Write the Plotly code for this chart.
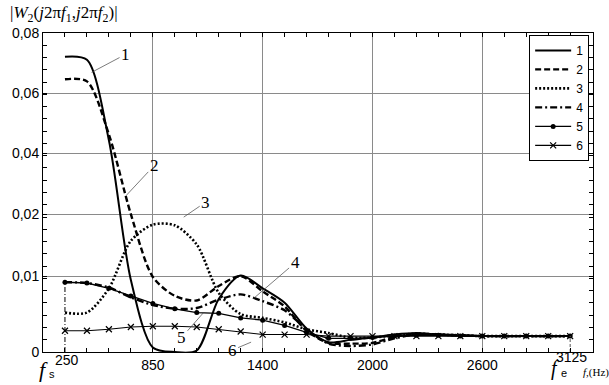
import numpy as np
import plotly.graph_objects as go

# ---------------- data ----------------
freqs = [250, 375, 500, 625, 750, 875, 1000, 1125, 1250, 1375, 1500, 1625,
         1750, 1875, 2000, 2125, 2250, 2375, 2500, 2625, 2750, 2875, 3000, 3125]

s1 = [0.0721, 0.0711, 0.0443, 0.0095, 0.0006, 0.0000, 0.0002, 0.0070, 0.0101, 0.0084, 0.0065, 0.0031,
      0.0013, 0.0016, 0.0019, 0.0023, 0.0025, 0.0023, 0.0022, 0.0021, 0.0021, 0.0021, 0.0021, 0.0021]
s2 = [0.0646, 0.0639, 0.0462, 0.0200, 0.0099, 0.0074, 0.0068, 0.0087, 0.0100, 0.0080, 0.0060, 0.0028,
      0.0012, 0.0011, 0.0012, 0.0020, 0.0024, 0.0023, 0.0022, 0.0021, 0.0021, 0.0021, 0.0021, 0.0021]
s3 = [0.0052, 0.0052, 0.0084, 0.0157, 0.0183, 0.0182, 0.0151, 0.0078, 0.0050, 0.0045, 0.0039, 0.0030,
      0.0025, 0.0019, 0.0019, 0.0022, 0.0024, 0.0023, 0.0022, 0.0021, 0.0021, 0.0021, 0.0021, 0.0021]
s4 = [0.0092, 0.0091, 0.0085, 0.0072, 0.0062, 0.0057, 0.0058, 0.0069, 0.0076, 0.0067, 0.0055, 0.0030,
      0.0011, 0.0008, 0.0010, 0.0018, 0.0023, 0.0023, 0.0022, 0.0021, 0.0021, 0.0021, 0.0021, 0.0021]
s5 = [0.0092, 0.0091, 0.0084, 0.0074, 0.0064, 0.0057, 0.0052, 0.0051, 0.0045, 0.0042, 0.0035, 0.0026,
      0.0018, 0.0018, 0.0019, 0.0021, 0.0022, 0.0022, 0.0021, 0.0021, 0.0021, 0.0021, 0.0021, 0.0021]
s6 = [0.0028, 0.0028, 0.0030, 0.0033, 0.0034, 0.0034, 0.0033, 0.0030, 0.0027, 0.0023, 0.0023, 0.0023,
      0.0021, 0.0021, 0.0021, 0.0021, 0.0021, 0.0021, 0.0021, 0.0021, 0.0021, 0.0021, 0.0021, 0.0021]
series_names = ["1", "2", "3", "4", "5", "6"]

# y axis of the original is piecewise (expanded near zero)
y_tick_values = [0, 0.01, 0.02, 0.04, 0.06, 0.08]
y_tick_labels = ["0", "0,01", "0,02", "0,04", "0,06", "0,08"]
y_axis_units = [0, 77, 140, 202, 263, 324]

x_grid_values = [750, 1375, 2000, 2625]
x_grid_labels = ["850", "1400", "2000", "2600"]


def yscale(v):
    return np.interp(np.asarray(v, dtype=float), y_tick_values, y_axis_units)


# ---------------- figure ----------------
W, H = 609, 385
ML, MR, MT, MB = 38, 16, 33, 28
PW, PH = W - ML - MR, H - MT - MB


def paper(px, py):
    return (px - ML) / PW, (H - MB - py) / PH


fig = go.Figure()
styles = [
    dict(line=dict(color="black", width=2.0, shape="spline", smoothing=0.8), mode="lines"),
    dict(line=dict(color="black", width=2.4, dash="6px,3px", shape="spline", smoothing=0.8), mode="lines"),
    dict(line=dict(color="black", width=2.6, dash="2px,2px", shape="spline", smoothing=0.8), mode="lines"),
    dict(line=dict(color="black", width=2.4, dash="7px,3px,2px,3px", shape="spline", smoothing=0.8), mode="lines"),
    dict(line=dict(color="black", width=1.3), mode="lines+markers",
         marker=dict(symbol="circle", size=5, color="black")),
    dict(line=dict(color="black", width=1.1), mode="lines+markers",
         marker=dict(symbol="x-thin", size=6, line=dict(color="black", width=1.2))),
]
for name, ser, st in zip(series_names, [s1, s2, s3, s4, s5, s6], styles):
    fig.add_trace(go.Scatter(x=freqs, y=yscale(ser), name=name, **st))

# f_s and f_e marker lines
fig.add_trace(go.Scatter(x=[freqs[0], freqs[0]], y=yscale([0, s4[0]]), mode="lines",
                         line=dict(color="black", width=1, dash="5px,2px,1px,2px"), showlegend=False))
fig.add_trace(go.Scatter(x=[freqs[-1], freqs[-1]], y=yscale([0, s1[-1]]), mode="lines",
                         line=dict(color="#555", width=1, dash="3px,2px"), showlegend=False))

annotations = []
# title
x0, y0 = paper(3, 14)
annotations.append(dict(xref="paper", yref="paper", x=x0, y=y0, xanchor="left", yanchor="middle",
                        showarrow=False,
                        text="|<i>W</i><sub>2</sub>(<i>j</i>2π<i>f</i><sub>1</sub>,<i>j</i>2π<i>f</i><sub>2</sub>)|",
                        font=dict(family="Liberation Serif", size=17, color="black")))


def txt(px, py, t, size=14, family="Liberation Sans", xanchor="center"):
    x, y = paper(px, py)
    annotations.append(dict(xref="paper", yref="paper", x=x, y=y, xanchor=xanchor, yanchor="middle",
                            showarrow=False, text=t, font=dict(family=family, size=size, color="black")))


txt(62, 365, "250")
txt(39, 375, "<i>f</i>", size=22, family="Liberation Serif")
txt(47, 379, "s", size=11)
txt(571, 362, "3125")
txt(555, 374, "<i>f</i>", size=20, family="Liberation Serif")
txt(564, 378, "e", size=11)
txt(581, 378, "<i>f</i>,(Hz)", size=11, family="Liberation Serif", xanchor="left")

# curve labels with leader lines: (point px, point py, text px, text py)
labels = [("1", 87, 73, 121, 55), ("2", 122, 198, 150, 168), ("3", 180, 220, 202, 205),
          ("4", 250, 303, 292, 267), ("5", 200, 317, 178, 342), ("6", 248, 347, 229, 355)]
for t, px, py, tx, ty in labels:
    x, y = paper(px, py)
    annotations.append(dict(xref="paper", yref="paper", x=x, y=y, text=t, showarrow=True,
                            arrowhead=0, arrowwidth=0.7, arrowcolor="#444",
                            ax=tx - px, ay=ty - py,
                            font=dict(family="Liberation Serif", size=17, color="black")))

axis_common = dict(showline=True, linecolor="black", linewidth=1, mirror="allticks",
                   ticks="inside", ticklen=4, tickcolor="black", zeroline=False,
                   gridcolor="#8a8a8a", gridwidth=1,
                   tickfont=dict(family="Liberation Sans", size=14, color="black"))

fig.update_layout(
    width=W, height=H, margin=dict(l=ML, r=MR, t=MT, b=MB, pad=0),
    paper_bgcolor="white", plot_bgcolor="white",
    annotations=annotations,
    legend=dict(x=0.993, y=0.994, xanchor="right", yanchor="top", bgcolor="white",
                bordercolor="black", borderwidth=1,
                font=dict(family="Liberation Sans", size=12, color="black"),
                tracegroupgap=0, itemwidth=36),
    xaxis=dict(range=[125, 3255], tickvals=x_grid_values, ticktext=x_grid_labels,
               showgrid=True,
               minor=dict(tick0=125, dtick=125, ticks="inside", ticklen=4, tickcolor="black", showgrid=False),
               **axis_common),
    yaxis=dict(range=[0, 324], tickvals=list(yscale(y_tick_values)), ticktext=y_tick_labels,
               showgrid=True,
               minor=dict(tickvals=[k * 324 / 26 for k in range(27)], ticks="inside", ticklen=4,
                          tickcolor="black", showgrid=False),
               **axis_common),
)

fig.write_html("out.html")
